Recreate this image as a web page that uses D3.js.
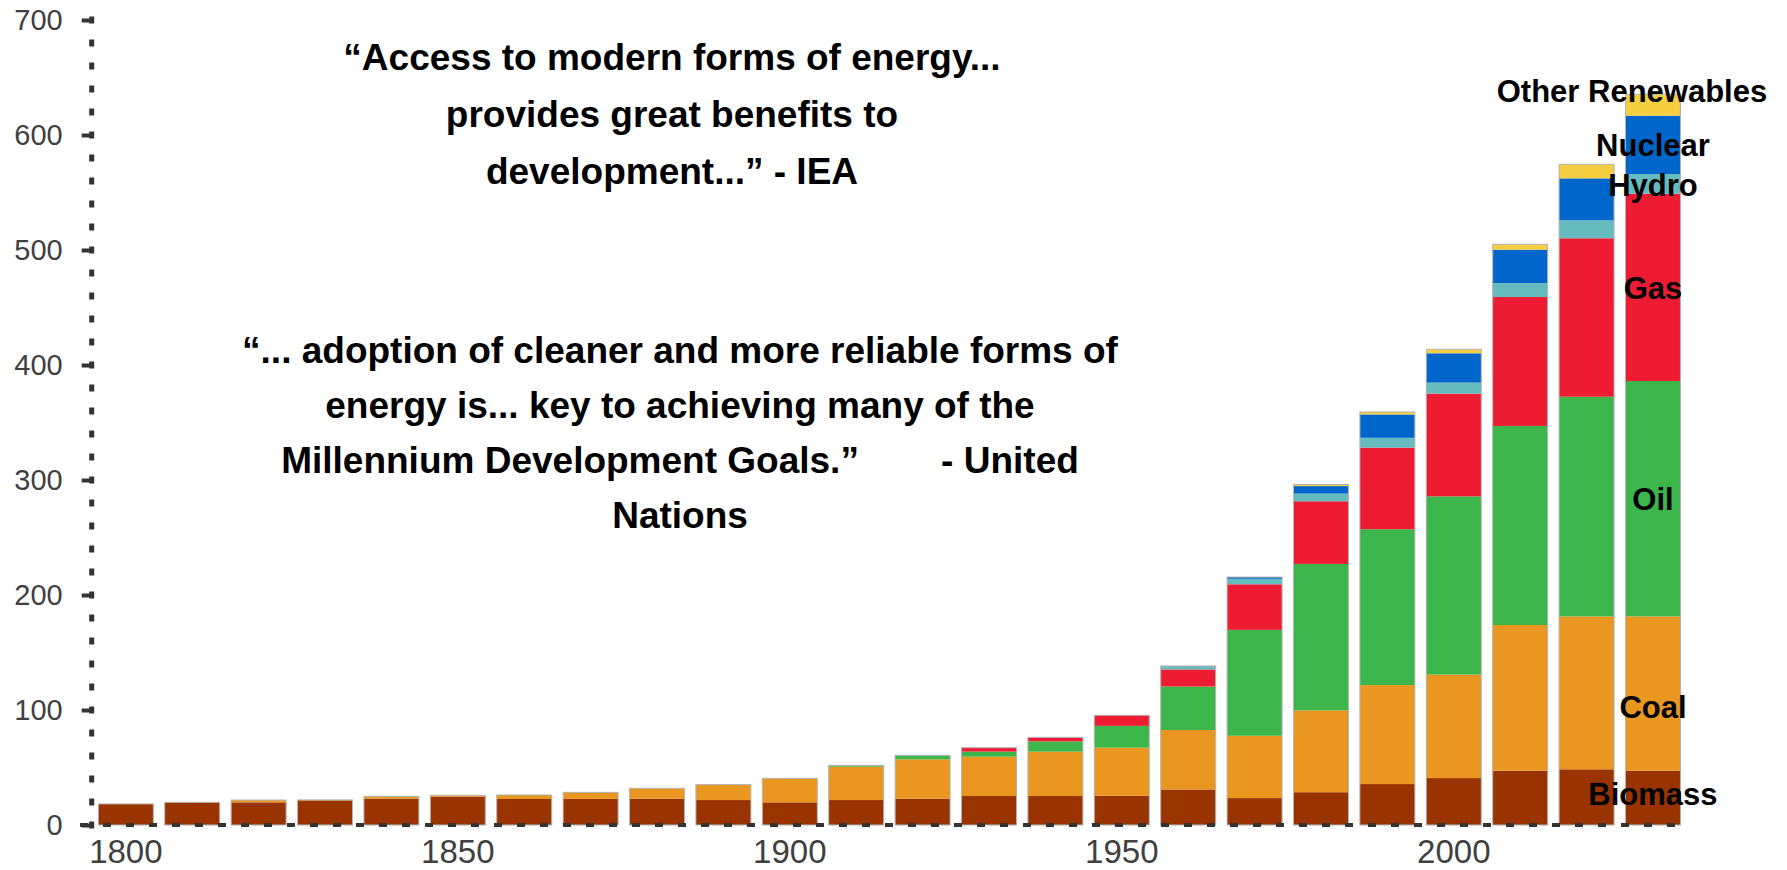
<!DOCTYPE html>
<html lang="en">
<head>
<meta charset="utf-8">
<title>World energy consumption by source, 1800-2030</title>
<script src="https://d3js.org/d3.v7.min.js"></script>
<style>
  body { margin: 0; background: #fff; }
  text { font-family: "Liberation Sans", Arial, sans-serif; }
</style>
</head>
<body>
<script>

// Decades shown on the chart (last bars are outlook values)
var years = [1800, 1810, 1820, 1830, 1840, 1850, 1860, 1870, 1880, 1890, 1900, 1910,
             1920, 1930, 1940, 1950, 1960, 1970, 1980, 1990, 2000, 2010, 2020, 2030];

// Values per source
var biomass = [18.3, 19.7, 19.7, 21.5, 22.9, 24.6, 22.6, 22.7, 22.9, 21.7, 19.7, 21.7,
               22.9, 25.2, 25.2, 25.3, 30.9, 23.4, 28.5, 35.6, 40.8, 47.2, 48.4, 47.2];
var coal    = [0, 0, 2.0, 0.3, 2.0, 1.2, 3.5, 5.7, 9.0, 13.4, 20.9, 29.0,
               34.2, 34.2, 38.6, 42.0, 51.7, 54.2, 71.2, 86.1, 90.0, 126.7, 133.0, 134.2];
var oil     = [0, 0, 0, 0, 0, 0, 0, 0, 0, 0, 0, 1.2,
               3.5, 4.4, 8.9, 18.9, 37.8, 92.1, 127.3, 135.5, 155.0, 173.1, 191.0, 204.7];
var gas     = [0, 0, 0, 0, 0, 0, 0, 0, 0, 0, 0, 0,
               0, 3.4, 3.5, 9.2, 14.9, 39.6, 54.5, 71.0, 89.3, 112.1, 137.8, 162.9];
var hydro   = [0, 0, 0, 0, 0, 0, 0, 0, 0, 0, 0, 0,
               0, 0, 0, 0, 3.0, 4.8, 6.7, 8.5, 9.6, 12.2, 15.6, 17.1];
var nuclear = [0, 0, 0, 0, 0, 0, 0, 0, 0, 0, 0, 0,
               0, 0, 0, 0, 0, 1.5, 6.5, 20.3, 25.5, 29.0, 36.5, 50.7];
var other   = [0, 0, 0, 0, 0, 0, 0, 0, 0, 0, 0, 0,
               0, 0, 0, 0, 0, 0, 1.4, 2.2, 3.5, 4.7, 12.2, 18.6];

var sources = ["Biomass", "Coal", "Oil", "Gas", "Hydro", "Nuclear", "Other Renewables"];
var colors  = ["#993300", "#E99720", "#3CB54A", "#ED1C33", "#66BBBF", "#0066CC", "#F5CE42"];

var yTicks = [0, 100, 200, 300, 400, 500, 600, 700];
var xTicks = [1800, 1850, 1900, 1950, 2000];

// Where the source names sit, in data units, next to the last bar
var labelValues = [17.4, 93, 274, 457.4, 547, 581.7, 628.7];

var quoteOne = ["\u201CAccess to modern forms of energy...",
                "provides great benefits to",
                "development...\u201D - IEA"];
var quoteTwo = ["\u201C... adoption of cleaner and more reliable forms of",
                "energy is... key to achieving many of the",
                "Millennium Development Goals.\u201D        - United",
                "Nations"];

// Building a table the stack layout can read
var columns = [biomass, coal, oil, gas, hydro, nuclear, other];
var table = years.map(function(yr, i) {
    var row = { year: yr };
    sources.forEach(function(s, j) { row[s] = columns[j][i]; });
    return row;
});

var w = 1787, h = 870;

var svg = d3.select("body")
            .append("svg")
            .attr("width", w)
            .attr("height", h);

var x = d3.scaleBand()
          .domain(years)
          .range([91.7, 1687.1])
          .paddingInner(0.172)
          .paddingOuter(0.1);

var y = d3.scaleLinear()
          .domain([0, 700])
          .range([825, 20]);

var color = d3.scaleOrdinal().domain(sources).range(colors);

var series = d3.stack().keys(sources)(table);

// Stacked bars
svg.append("g")
   .selectAll("g")
   .data(series)
   .enter()
   .append("g")
   .attr("fill", function(d) { return color(d.key); })
   .selectAll("rect")
   .data(function(d) { return d; })
   .enter()
   .append("rect")
   .attr("x", function(d) { return x(d.data.year); })
   .attr("width", x.bandwidth())
   .attr("y", function(d) { return y(d[1]); })
   .attr("height", function(d) { return y(d[0]) - y(d[1]); });

// Thin grey outline around each whole bar
svg.append("g")
   .selectAll("rect")
   .data(table)
   .enter()
   .append("rect")
   .attr("x", function(d) { return x(d.year); })
   .attr("width", x.bandwidth())
   .attr("y", function(d) { return y(d3.sum(sources, function(s) { return d[s]; })); })
   .attr("height", function(d) { return y(0) - y(d3.sum(sources, function(s) { return d[s]; })); })
   .attr("fill", "none")
   .attr("stroke", "#b4b4b4")
   .attr("stroke-width", 1);

// Y axis: ticks and labels from d3, dotted spine drawn by hand
var yAxis = svg.append("g")
   .attr("transform", "translate(91.7,0)")
   .call(d3.axisLeft(y).tickValues(yTicks).tickSize(10).tickSizeOuter(0).tickPadding(19));

yAxis.select(".domain").remove();
yAxis.selectAll(".tick line")
     .attr("stroke", "#333")
     .attr("stroke-width", 4);
yAxis.selectAll(".tick text")
     .attr("fill", "#404040")
     .style("font-size", "29px");

svg.append("line")
   .attr("x1", 91.7).attr("x2", 91.7)
   .attr("y1", y(0) + 3.5).attr("y2", y(700) - 3.5)
   .attr("stroke", "#333")
   .attr("stroke-width", 5)
   .attr("stroke-dasharray", "7,16");

// X axis: labels from d3, dashed baseline drawn over the bars
var xAxis = svg.append("g")
   .attr("transform", "translate(0," + y(0) + ")")
   .call(d3.axisBottom(x).tickValues(xTicks).tickSize(0).tickPadding(15));

xAxis.select(".domain").remove();
xAxis.selectAll(".tick text")
     .attr("fill", "#404040")
     .style("font-size", "33px");

svg.append("line")
   .attr("x1", 80).attr("x2", x(2030) + x.bandwidth())
   .attr("y1", y(0)).attr("y2", y(0))
   .attr("stroke", "#333")
   .attr("stroke-width", 4)
   .attr("stroke-dasharray", "8,15");

// Source names beside the 2030 bar
var lastX = x(2030) + x.bandwidth() / 2;
svg.append("g")
   .selectAll("text")
   .data(sources)
   .enter()
   .append("text")
   .attr("x", function(d, i) { return i === 6 ? lastX - 21 : lastX; })
   .attr("y", function(d, i) { return y(labelValues[i]); })
   .attr("text-anchor", "middle")
   .style("font-size", "31px")
   .style("font-weight", "bold")
   .attr("fill", "#000")
   .text(function(d) { return d; });

// Quotes
svg.append("g")
   .selectAll("text")
   .data(quoteOne)
   .enter()
   .append("text")
   .attr("x", 672)
   .attr("y", function(d, i) { return 70 + i * 57; })
   .attr("text-anchor", "middle")
   .style("font-size", "37px")
   .style("font-weight", "bold")
   .style("white-space", "pre")
   .text(function(d) { return d; });

svg.append("g")
   .selectAll("text")
   .data(quoteTwo)
   .enter()
   .append("text")
   .attr("x", 680)
   .attr("y", function(d, i) { return 363 + i * 55; })
   .attr("text-anchor", "middle")
   .style("font-size", "37px")
   .style("font-weight", "bold")
   .style("white-space", "pre")
   .text(function(d) { return d; });

</script>
</body>
</html>
